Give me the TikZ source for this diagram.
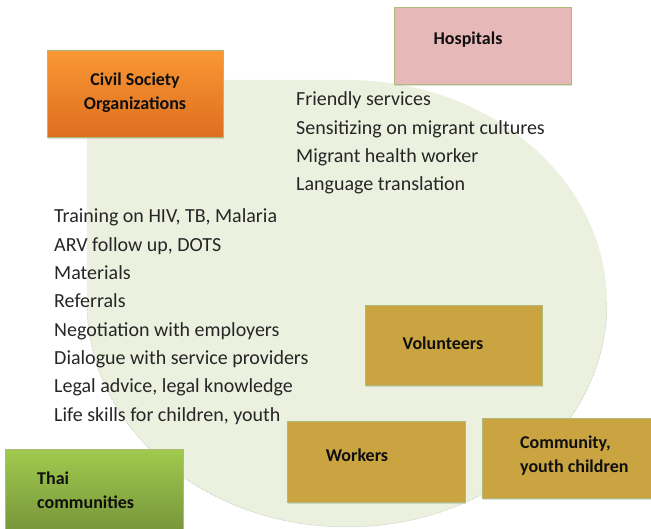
\documentclass[tikz,border=0pt]{standalone}
\usepackage{fontspec}
\setmainfont{Carlito}
\usetikzlibrary{shadows}
\definecolor{blobfill}{RGB}{235,241,222}
\definecolor{blobedge}{RGB}{170,175,165}
\definecolor{txt}{RGB}{38,38,38}
\definecolor{lbl}{RGB}{15,15,15}
\definecolor{goldbox}{RGB}{201,164,64}
\definecolor{pinkbox}{RGB}{230,185,184}
\definecolor{orangetop}{RGB}{249,152,52}
\definecolor{orangebot}{RGB}{222,110,32}
\definecolor{greentop}{RGB}{160,202,78}
\definecolor{greenbot}{RGB}{118,148,58}
\definecolor{boxedge}{RGB}{175,185,120}
\tikzset{
  boxbase/.style={anchor=north west, inner sep=0pt, draw=boxedge, line width=0.5pt,
    drop shadow={opacity=0.25, shadow xshift=1pt, shadow yshift=-2pt}},
  goldstyle/.style={boxbase, fill=goldbox},
  lbltext/.style={text=lbl, font=\fontsize{18}{24}\selectfont\bfseries, inner sep=0pt},
  listtext/.style={text=txt, font=\fontsize{20}{24}\selectfont, anchor=base west, inner sep=0pt}
}
\begin{document}
\begin{tikzpicture}[x=1pt,y=-1pt]
\useasboundingbox (0,0) rectangle (651,529);
% background blob (teardrop shape with square top-left corner)
\fill[blobfill] (87,303.5) -- (87,80) -- (347,80)
  arc[start angle=270, end angle=540, x radius=260, y radius=223.5] -- cycle;
\draw[blobedge, line width=0.5pt, densely dotted]
  (607,303.5) arc[start angle=360, end angle=540, x radius=260, y radius=223.5];

% boxes
\node[boxbase, top color=orangetop, bottom color=orangebot, minimum width=176, minimum height=87] (cso) at (47,50) {};
\node[lbltext, align=center] (csot) at (135,92.5) {Civil Society\\Organizations};

\node[boxbase, fill=pinkbox, minimum width=177, minimum height=77] (hosp) at (394,7) {};
\node[lbltext] (hospt) at (468,40) {Hospitals};

\node[goldstyle, minimum width=177, minimum height=80] (vol) at (365,305) {};
\node[lbltext] (volt) at (443,343) {Volunteers};

\node[goldstyle, minimum width=178, minimum height=81] (work) at (287,421) {};
\node[lbltext] (workt) at (357,455) {Workers};

\node[goldstyle, minimum width=175, minimum height=80] (comm) at (482,418) {};
\node[lbltext, align=left, anchor=west] (commt) at (520,455.5) {Community,\\youth children};

\node[boxbase, top color=greentop, bottom color=greenbot, minimum width=178, minimum height=84] (thai) at (5,449) {};
\node[lbltext, align=left, anchor=west] (thait) at (37,490.5) {Thai\\communities};

% hospital list
\foreach \t [count=\i from 0] in {Friendly services, Sensitizing on migrant cultures,
  Migrant health worker, Language translation}
  \node[listtext] (h\i) at (296,106+28.3*\i) {\t};

% CSO list
\foreach \t [count=\i from 0] in {{Training on HIV, TB, Malaria}, {ARV follow up, DOTS}, Materials,
  Referrals, Negotiation with employers, Dialogue with service providers,
  {Legal advice, legal knowledge}, {Life skills for children, youth}}
  \node[listtext] (c\i) at (54,223+28.3*\i) {\t};
\end{tikzpicture}
\end{document}
